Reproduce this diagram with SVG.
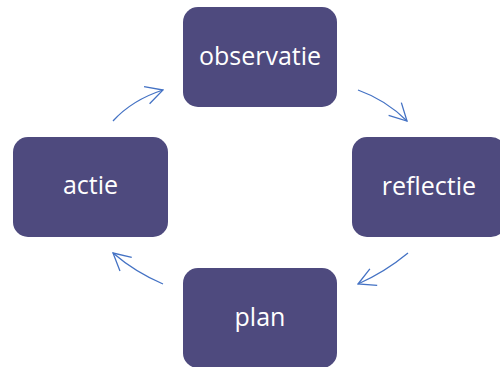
<svg xmlns="http://www.w3.org/2000/svg" width="500" height="367" viewBox="0 0 500 367">
  <style>
    .box { fill: #4E4A7E; }
    .lbl { fill: #FFFFFF; font-family: "Open Sans", "Liberation Sans", sans-serif; font-size: 25px; text-anchor: middle; }
    .arc { fill: none; stroke: #4472C4; stroke-width: 1.3; marker-end: url(#head); }
  </style>
  <defs>
    <marker id="head" markerUnits="userSpaceOnUse" viewBox="0 0 20 20" refX="19" refY="10" markerWidth="20" markerHeight="20" orient="auto">
      <path d="M2,1 L19,10 L2,19" fill="none" stroke="#4472C4" stroke-width="1.3"/>
    </marker>
  </defs>
  <rect width="500" height="367" fill="#FFFFFF"/>
  <g id="node-observatie">
    <rect class="box" x="183" y="7" width="154" height="100" rx="15"/>
    <text class="lbl" x="260" y="65">observatie</text>
  </g>
  <g id="node-reflectie">
    <rect class="box" x="352" y="137" width="154" height="100" rx="15"/>
    <text class="lbl" x="429" y="195">reflectie</text>
  </g>
  <g id="node-plan">
    <rect class="box" x="183" y="268" width="154" height="100" rx="15"/>
    <text class="lbl" x="260" y="326">plan</text>
  </g>
  <g id="node-actie">
    <rect class="box" x="13" y="137" width="155" height="100" rx="15"/>
    <text class="lbl" x="90.5" y="194">actie</text>
  </g>
  <g id="connectors">
    <path class="arc" d="M113,121 Q132,100 163,90"/>
    <path class="arc" d="M358,90 Q386,100 407,121"/>
    <path class="arc" d="M408,253 Q385,272 358,284"/>
    <path class="arc" d="M163,284 Q135,272 113,253"/>
  </g>
</svg>
